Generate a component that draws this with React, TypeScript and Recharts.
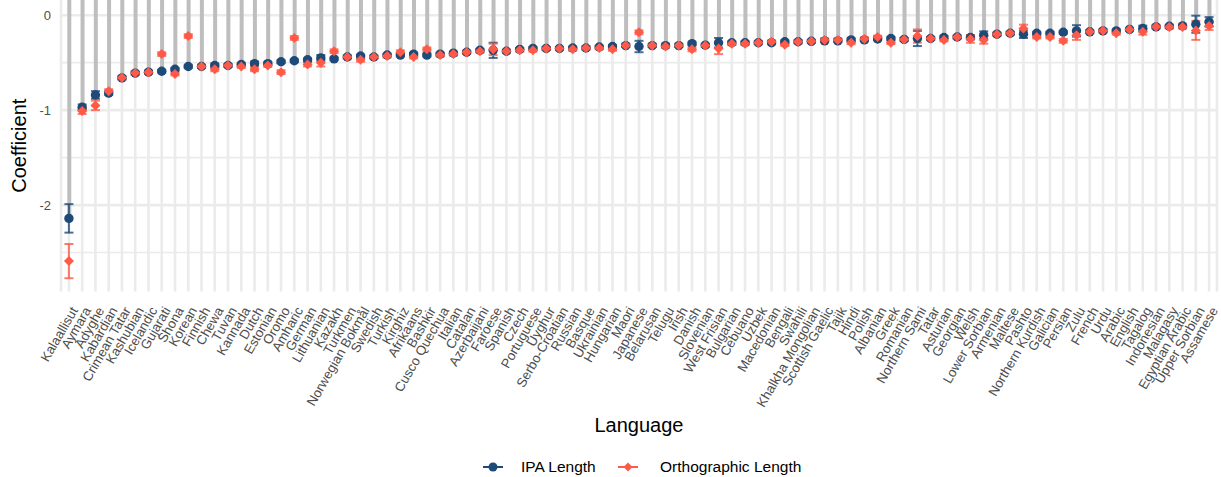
import React from 'react';
import { ComposedChart, Bar, Line, XAxis, YAxis, CartesianGrid, ErrorBar, Legend, Label } from 'recharts';

const languages = [
  'Kalaallisut', 'Aymara', 'Adyghe', 'Kabardian', 'Crimean Tatar', 'Kashubian', 'Icelandic', 'Gujarati', 'Shona', 'Korean',
  'Finnish', 'Chewa', 'Tuvan', 'Kannada', 'Dutch', 'Estonian', 'Oromo', 'Amharic', 'German', 'Lithuanian',
  'Kazakh', 'Turkmen', 'Norwegian Bokmål', 'Swedish', 'Turkish', 'Kirghiz', 'Afrikaans', 'Bashkir', 'Cusco Quechua', 'Italian',
  'Catalan', 'Azerbaijani', 'Faroese', 'Spanish', 'Czech', 'Portuguese', 'Uyghur', 'Serbo-Croatian', 'Russian', 'Basque',
  'Ukrainian', 'Hungarian', 'Maori', 'Japanese', 'Belarusan', 'Telugu', 'Irish', 'Danish', 'Slovenian', 'West Frisian',
  'Bulgarian', 'Cebuano', 'Uzbek', 'Macedonian', 'Bengali', 'Swahili', 'Khalkha Mongolian', 'Scottish Gaelic', 'Tajik', 'Hindi',
  'Polish', 'Albanian', 'Greek', 'Romanian', 'Northern Sami', 'Tatar', 'Asturian', 'Georgian', 'Welsh', 'Lower Sorbian',
  'Armenian', 'Maltese', 'Pashto', 'Northern Kurdish', 'Galician', 'Persian', 'Zulu', 'French', 'Urdu', 'Arabic',
  'English', 'Tagalog', 'Indonesian', 'Malagasy', 'Egyptian Arabic', 'Upper Sorbian', 'Assamese',
];

const ipaValues = [
  -2.14, -0.97, -0.84, -0.82, -0.66, -0.61, -0.60, -0.59, -0.57, -0.54,
  -0.54, -0.53, -0.53, -0.52, -0.51, -0.51, -0.49, -0.48, -0.47, -0.45,
  -0.46, -0.44, -0.43, -0.44, -0.42, -0.42, -0.41, -0.42, -0.41, -0.40,
  -0.39, -0.37, -0.37, -0.38, -0.36, -0.35, -0.35, -0.35, -0.345, -0.345,
  -0.335, -0.33, -0.32, -0.33, -0.32, -0.32, -0.32, -0.30, -0.315, -0.29,
  -0.29, -0.29, -0.29, -0.29, -0.28, -0.28, -0.275, -0.27, -0.27, -0.26,
  -0.26, -0.25, -0.245, -0.255, -0.245, -0.245, -0.235, -0.23, -0.235, -0.21,
  -0.20, -0.19, -0.20, -0.19, -0.19, -0.18, -0.165, -0.175, -0.165, -0.165,
  -0.15, -0.14, -0.123, -0.116, -0.113, -0.095, -0.07,
];

const ipaErrors = [
  0.15, 0.03, 0.04, 0.02, 0.015, 0.015, 0.015, 0.015, 0.015, 0.015,
  0.015, 0.02, 0.015, 0.015, 0.02, 0.015, 0.015, 0.015, 0.015, 0.03,
  0.015, 0.015, 0.015, 0.015, 0.015, 0.015, 0.015, 0.015, 0.015, 0.015,
  0.015, 0.015, 0.08, 0.015, 0.015, 0.015, 0.015, 0.015, 0.015, 0.015,
  0.015, 0.015, 0.015, 0.06, 0.015, 0.015, 0.015, 0.015, 0.015, 0.05,
  0.015, 0.015, 0.015, 0.015, 0.015, 0.015, 0.015, 0.015, 0.015, 0.015,
  0.015, 0.015, 0.015, 0.015, 0.08, 0.015, 0.015, 0.015, 0.02, 0.04,
  0.015, 0.015, 0.04, 0.015, 0.015, 0.015, 0.06, 0.015, 0.015, 0.015,
  0.015, 0.03, 0.015, 0.015, 0.015, 0.09, 0.05,
];

const orthValues = [
  -2.59, -1.01, -0.95, -0.80, -0.66, -0.61, -0.60, -0.41, -0.62, -0.22,
  -0.54, -0.57, -0.53, -0.54, -0.57, -0.53, -0.60, -0.24, -0.52, -0.50,
  -0.38, -0.44, -0.47, -0.44, -0.43, -0.39, -0.44, -0.36, -0.42, -0.41,
  -0.39, -0.38, -0.36, -0.38, -0.37, -0.37, -0.35, -0.35, -0.36, -0.345,
  -0.345, -0.36, -0.32, -0.18, -0.32, -0.33, -0.32, -0.36, -0.32, -0.35,
  -0.30, -0.30, -0.29, -0.28, -0.31, -0.28, -0.275, -0.26, -0.26, -0.29,
  -0.25, -0.23, -0.29, -0.255, -0.22, -0.245, -0.26, -0.23, -0.25, -0.26,
  -0.20, -0.19, -0.14, -0.23, -0.23, -0.27, -0.21, -0.175, -0.165, -0.19,
  -0.15, -0.175, -0.123, -0.125, -0.125, -0.16, -0.115,
];

const orthErrors = [
  0.18, 0.03, 0.05, 0.02, 0.015, 0.015, 0.015, 0.02, 0.015, 0.02,
  0.015, 0.02, 0.015, 0.015, 0.02, 0.015, 0.02, 0.02, 0.02, 0.04,
  0.02, 0.015, 0.02, 0.015, 0.015, 0.02, 0.015, 0.02, 0.015, 0.015,
  0.015, 0.015, 0.06, 0.015, 0.015, 0.015, 0.015, 0.015, 0.015, 0.015,
  0.015, 0.015, 0.015, 0.02, 0.015, 0.015, 0.015, 0.02, 0.015, 0.06,
  0.015, 0.015, 0.015, 0.015, 0.015, 0.015, 0.015, 0.015, 0.015, 0.015,
  0.015, 0.015, 0.015, 0.015, 0.07, 0.015, 0.015, 0.015, 0.04, 0.04,
  0.015, 0.015, 0.04, 0.015, 0.015, 0.02, 0.05, 0.015, 0.015, 0.015,
  0.015, 0.03, 0.015, 0.015, 0.015, 0.1, 0.04,
];

const majorTicks = [-2, -1, 0];
const minorTicks = [-2.5, -1.5, -0.5];
const yDomain: [number, number] = [-2.91, 0.16];

const seriesNames = ['IPA Length', 'Orthographic Length'];
const IPA_COLOR = '#1d4a78';
const ORTH_COLOR = '#ff5a47';
const SEG_COLOR = '#bebebe';
const GRID_COLOR = '#ebebeb';
const FONT = '"Liberation Sans", Arial, Helvetica, sans-serif';

const data = languages.map((name, i) => ({
  name,
  ipa: ipaValues[i],
  ipaErr: ipaErrors[i],
  orth: orthValues[i],
  orthErr: orthErrors[i],
  seg: [yDomain[1], ipaValues[i]],
}));

const CircleDot = (props: any) => {
  const { cx, cy, index } = props;
  if (cx == null || cy == null) return <g key={`c-${index}`} />;
  return <circle key={`c-${index}`} cx={cx} cy={cy} r={4.7} fill={IPA_COLOR} />;
};

const DiamondDot = (props: any) => {
  const { cx, cy, index } = props;
  if (cx == null || cy == null) return <g key={`d-${index}`} />;
  const r = 5;
  return (
    <polygon
      key={`d-${index}`}
      points={`${cx},${cy - r} ${cx + r},${cy} ${cx},${cy + r} ${cx - r},${cy}`}
      fill={ORTH_COLOR}
    />
  );
};

const XTick = (props: any) => {
  const { x, y, payload } = props;
  return (
    <g transform={`translate(${x + 1},${y + 14})`}>
      <text
        transform="rotate(-60)"
        textAnchor="end"
        dominantBaseline="hanging"
        fontSize={13.3}
        fill="#4d4d4d"
        fontFamily={FONT}
      >
        {payload.value}
      </text>
    </g>
  );
};

const YLabel = (props: any) => {
  const vb = props.viewBox || { x: 0, y: 0, width: 61, height: 291 };
  const cx = vb.x + 19;
  const cy = vb.y + vb.height / 2;
  return (
    <text
      x={cx}
      y={cy}
      transform={`rotate(-90, ${cx}, ${cy})`}
      textAnchor="middle"
      dominantBaseline="central"
      fontSize={20}
      fill="#000"
      fontFamily={FONT}
    >
      Coefficient
    </text>
  );
};

const XLabel = (props: any) => {
  const vb = props.viewBox || { x: 61, y: 291, width: 1156, height: 160 };
  return (
    <text
      x={vb.x + vb.width / 2}
      y={vb.y + 133}
      textAnchor="middle"
      dominantBaseline="central"
      fontSize={20}
      fill="#000"
      fontFamily={FONT}
    >
      Language
    </text>
  );
};

const legendLayout = [
  { key: 0, markerLeft: 483, textLeft: 521 },
  { key: 1, markerLeft: 618, textLeft: 660 },
];

const LegendContent = () => {
  const colors = [IPA_COLOR, ORTH_COLOR];
  return (
    <div style={{ position: 'relative', width: 1221, height: 24, fontFamily: FONT, fontSize: 15.5, color: '#000' }}>
      {seriesNames.map((n, i) => (
        <React.Fragment key={n}>
          <svg
            width={20}
            height={14}
            style={{ position: 'absolute', left: legendLayout[i].markerLeft, top: 7, display: 'block' }}
          >
            <line x1={0} y1={7} x2={20} y2={7} stroke={colors[i]} strokeWidth={2} />
            {i === 0 ? (
              <circle cx={10} cy={7} r={4.5} fill={colors[i]} />
            ) : (
              <polygon points="10,2.5 14.5,7 10,11.5 5.5,7" fill={colors[i]} />
            )}
          </svg>
          <span style={{ position: 'absolute', left: legendLayout[i].textLeft, top: 5, lineHeight: '18px', whiteSpace: 'nowrap' }}>
            {n}
          </span>
        </React.Fragment>
      ))}
    </div>
  );
};

export default function App() {
  return (
    <div style={{ position: 'absolute', left: 0, top: 0, width: 1221, height: 477, background: '#fff' }}>
      <ComposedChart
        width={1221}
        height={477}
        data={data}
        margin={{ top: 0, right: 4, bottom: 0, left: 0 }}
      >
        <CartesianGrid
          stroke={GRID_COLOR}
          strokeWidth={1.6}
          horizontal={true}
          vertical={false}
          horizontalValues={minorTicks}
        />
        <CartesianGrid
          stroke={GRID_COLOR}
          strokeWidth={2.6}
          horizontal={true}
          vertical={true}
          horizontalValues={majorTicks}
        />
        <XAxis
          dataKey="name"
          type="category"
          interval={0}
          tickLine={false}
          axisLine={false}
          tickSize={0}
          tickMargin={0}
          height={161.5}
          padding={{ left: 1.3, right: 1.3 }}
          tick={<XTick />}
        >
          <Label content={<XLabel />} />
        </XAxis>
        <YAxis
          type="number"
          domain={yDomain}
          allowDataOverflow={true}
          ticks={majorTicks}
          tickLine={false}
          axisLine={false}
          width={61}
          tickMargin={4}
          tick={{ fill: '#4d4d4d', fontSize: 13, fontFamily: FONT }}
        >
          <Label content={<YLabel />} />
        </YAxis>
        <Bar dataKey="seg" barSize={4} fill={SEG_COLOR} isAnimationActive={false} legendType="none" />
        <Line
          dataKey="ipa"
          name={seriesNames[0]}
          stroke="none"
          dot={CircleDot}
          activeDot={false}
          isAnimationActive={false}
        >
          <ErrorBar dataKey="ipaErr" width={4.5} strokeWidth={2} stroke={IPA_COLOR} strokeOpacity={0.8} direction="y" />
        </Line>
        <Line
          dataKey="orth"
          name={seriesNames[1]}
          stroke="none"
          dot={DiamondDot}
          activeDot={false}
          isAnimationActive={false}
        >
          <ErrorBar dataKey="orthErr" width={4.5} strokeWidth={2} stroke={ORTH_COLOR} strokeOpacity={0.8} direction="y" />
        </Line>
        <Legend verticalAlign="bottom" height={24} content={<LegendContent />} wrapperStyle={{ left: 0, width: 1221 }} />
      </ComposedChart>
    </div>
  );
}
